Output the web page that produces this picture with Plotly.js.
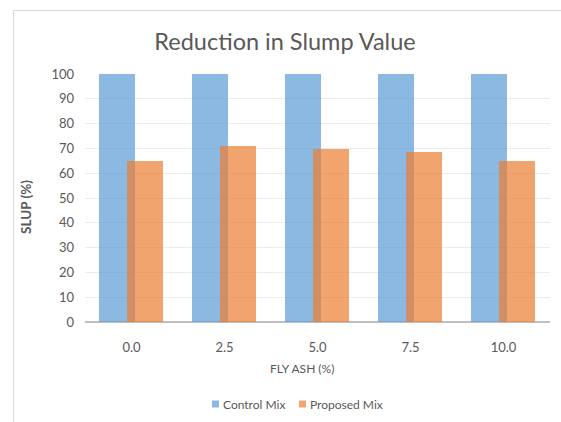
<!DOCTYPE html>
<html>
<head>
<meta charset="utf-8">
<script src="https://cdn.plot.ly/plotly-3.0.1.min.js"></script>
<style>
html,body{margin:0;padding:0;background:#fff;overflow:hidden;}
#wrap{position:relative;width:561px;height:422px;}
#chart{width:561px;height:422px;}
#frame{position:absolute;left:13px;top:10px;right:0;bottom:0;border-left:1px solid #D9D9D9;border-top:1px solid #D9D9D9;pointer-events:none;}
</style>
</head>
<body>
<div id="wrap"><div id="chart"></div><div id="frame"></div></div>
<script>
var categories = ["0.0", "2.5", "5.0", "7.5", "10.0"];
var seriesNames = ["Control Mix", "Proposed Mix"];
var controlMix = [100, 100, 100, 100, 100];
var proposedMix = [65.1, 70.8, 69.6, 68.6, 64.9];
var yTicks = [0, 10, 20, 30, 40, 50, 60, 70, 80, 90, 100];

var fontFam = "Lato, 'Open Sans', sans-serif";
var blue = "rgba(91,155,213,0.7)";
var orange = "rgba(237,125,49,0.7)";
var blueSolid = "rgb(140,185,226)";
var orangeSolid = "rgb(242,164,111)";

// plot area in pixels: x 85..550, y 74..322
var L = 85, R = 550, T = 74, B = 322;
function px(x) { return (x - L) / (R - L); }
function py(y) { return (B - y) / (B - T); }

var traces = [
  {type: "bar", name: seriesNames[0], x: categories, y: controlMix,
   width: 0.387, offset: -0.35,
   marker: {color: blue, line: {width: 0}}},
  {type: "bar", name: seriesNames[1], x: categories, y: proposedMix,
   width: 0.387, offset: -0.048,
   marker: {color: orange, line: {width: 0}}}
];
var layout = {
  width: 561, height: 422,
  margin: {l: L, r: 561 - R, t: T, b: 422 - B},
  paper_bgcolor: "#fff", plot_bgcolor: "#fff",
  barmode: "overlay",
  showlegend: false,
  font: {family: fontFam, color: "#595959", size: 13},
  title: {text: "Reduction in Slump Value", x: 0.508, xanchor: "center", y: 0.9, yanchor: "middle",
          font: {family: fontFam, size: 23.5, color: "#595959"}},
  xaxis: {type: "category", tickvals: categories, ticktext: categories,
          showgrid: false, zeroline: false, showline: false, ticks: "",
          ticklabelstandoff: 16,
          tickfont: {size: 13, color: "#595959"},
          automargin: false},
  yaxis: {range: [0, 100], tickvals: yTicks, ticktext: yTicks.map(String),
          showgrid: true, gridcolor: "#EBEBEB", gridwidth: 1,
          zeroline: true, zerolinecolor: "#BFBFBF", zerolinewidth: 2,
          showline: false, ticks: "", ticklabelstandoff: 10,
          tickfont: {size: 13, color: "#595959"},
          automargin: false},
  annotations: [
    {xref: "paper", yref: "paper", x: px(26), y: py(207), text: "<b>SLUP (%)</b>", textangle: -90,
     showarrow: false, xanchor: "center", yanchor: "middle", font: {size: 13.5, color: "#595959"}},
    {xref: "paper", yref: "paper", x: px(302), y: py(368), text: "FLY ASH (%)",
     showarrow: false, xanchor: "center", yanchor: "middle", font: {size: 12, color: "#595959"}},
    {xref: "paper", yref: "paper", x: px(221), y: py(404), text: seriesNames[0],
     showarrow: false, xanchor: "left", yanchor: "middle", font: {size: 12, color: "#595959"}},
    {xref: "paper", yref: "paper", x: px(308), y: py(404), text: seriesNames[1],
     showarrow: false, xanchor: "left", yanchor: "middle", font: {size: 12, color: "#595959"}}
  ],
  shapes: [
    {type: "rect", xref: "paper", yref: "paper", x0: px(212), x1: px(219), y0: py(400.5), y1: py(407.5),
     fillcolor: blueSolid, line: {width: 0}},
    {type: "rect", xref: "paper", yref: "paper", x0: px(299), x1: px(306), y0: py(400.5), y1: py(407.5),
     fillcolor: orangeSolid, line: {width: 0}}
  ],
  bargap: 0
};
Plotly.newPlot("chart", traces, layout, {displayModeBar: false, staticPlot: true});
</script>
</body>
</html>
